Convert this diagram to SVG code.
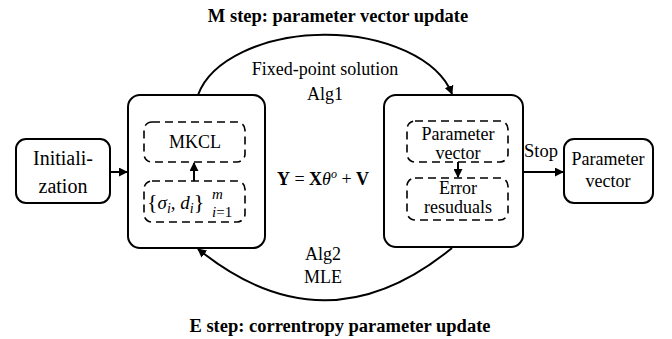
<svg xmlns="http://www.w3.org/2000/svg" width="672" height="339" viewBox="0 0 672 339">
<style>
text{fill:#000}
.t{font-size:18px;text-anchor:middle}
.big{font-size:20px;text-anchor:middle}
.title{font-size:18.5px;font-weight:bold;text-anchor:middle}
.box{fill:#fff;stroke:#000;stroke-width:2}
.dash{fill:none;stroke:#000;stroke-width:1.6;stroke-dasharray:8 5}
.conn{fill:none;stroke:#000;stroke-width:2}
</style>
<defs>
<marker id="ah" viewBox="0 0 10 10" refX="9" refY="5" markerWidth="4.5" markerHeight="4.5" orient="auto" markerUnits="strokeWidth">
<path d="M0,0 L10,5 L0,10 z" fill="#000"/>
</marker>
</defs>
<g font-family="'Liberation Serif', 'DejaVu Serif', serif">
<text class="title" x="338" y="22">M step: parameter vector update</text>
<text class="title" x="340" y="332">E step: correntropy parameter update</text>
<g id="init">
<rect class="box" x="16" y="139" width="94" height="64" rx="10"/>
<text class="big" x="63" y="165">Initiali-</text>
<text class="big" x="63" y="193">zation</text>
</g>
<g id="left">
<rect class="box" x="128" y="95" width="137" height="153" rx="12"/>
</g>
<g id="mkcl">
<rect class="dash" x="144" y="122" width="101" height="40" rx="8"/>
<text class="t" x="195" y="148">MKCL</text>
</g>
<g id="sigma">
<rect class="dash" x="144" y="181" width="101" height="41" rx="8"/>
<text x="147" y="209" font-size="19"><tspan font-size="22">{</tspan><tspan font-style="italic">σ</tspan><tspan font-size="14" font-style="italic" dy="4">i</tspan><tspan dy="-4">, </tspan><tspan font-style="italic">d</tspan><tspan font-size="14" font-style="italic" dy="4">i</tspan><tspan font-size="22" dy="-4">}</tspan><tspan font-size="15" font-style="italic" x="212" dy="-10">m</tspan><tspan font-size="15" x="212" dy="18"><tspan font-style="italic">i</tspan>=1</tspan></text>
</g>
<g id="equation">
<text x="323" y="185" font-size="18" text-anchor="middle"><tspan font-weight="bold">Y</tspan> = <tspan font-weight="bold">X</tspan><tspan font-style="italic">θ</tspan><tspan font-style="italic" font-size="12" dy="-7">o</tspan><tspan dy="7"> + </tspan><tspan font-weight="bold">V</tspan></text>
</g>
<g id="right">
<rect class="box" x="384" y="95" width="139" height="152" rx="12"/>
</g>
<g id="param">
<rect class="dash" x="407" y="121" width="101" height="41" rx="8"/>
<text class="t" x="458" y="140" font-size="17.5">Parameter</text>
<text class="t" x="458" y="159" font-size="17.5">vector</text>
</g>
<g id="error">
<rect class="dash" x="407" y="178" width="101" height="42" rx="8"/>
<text class="t" x="458" y="194">Error</text>
<text class="t" x="458" y="213">resuduals</text>
</g>
<g id="result">
<rect class="box" x="564" y="139" width="89" height="64" rx="10"/>
<text class="t" x="608" y="165" font-size="18.5">Parameter</text>
<text class="t" x="608" y="187" font-size="18.5">vector</text>
</g>
<g id="connectors">
<path class="conn" d="M110,172 L127,172" marker-end="url(#ah)"/>
<path class="conn" d="M194,181 L194,163" marker-end="url(#ah)"/>
<path class="conn" d="M458,162 L458,177" marker-end="url(#ah)"/>
<path class="conn" d="M523,172 L563,172" marker-end="url(#ah)"/>
<path class="conn" d="M198,95 A130,76 0 0,1 452,94" marker-end="url(#ah)"/>
<path class="conn" d="M452,248 Q325,352 198,249" marker-end="url(#ah)"/>
<text x="524" y="157" font-size="18.5">Stop</text>
<text class="t" x="325" y="75">Fixed-point solution</text>
<text class="t" x="325" y="100">Alg1</text>
<text class="t" x="323" y="260">Alg2</text>
<text class="t" x="323" y="283">MLE</text>
</g>
</g>
</svg>
